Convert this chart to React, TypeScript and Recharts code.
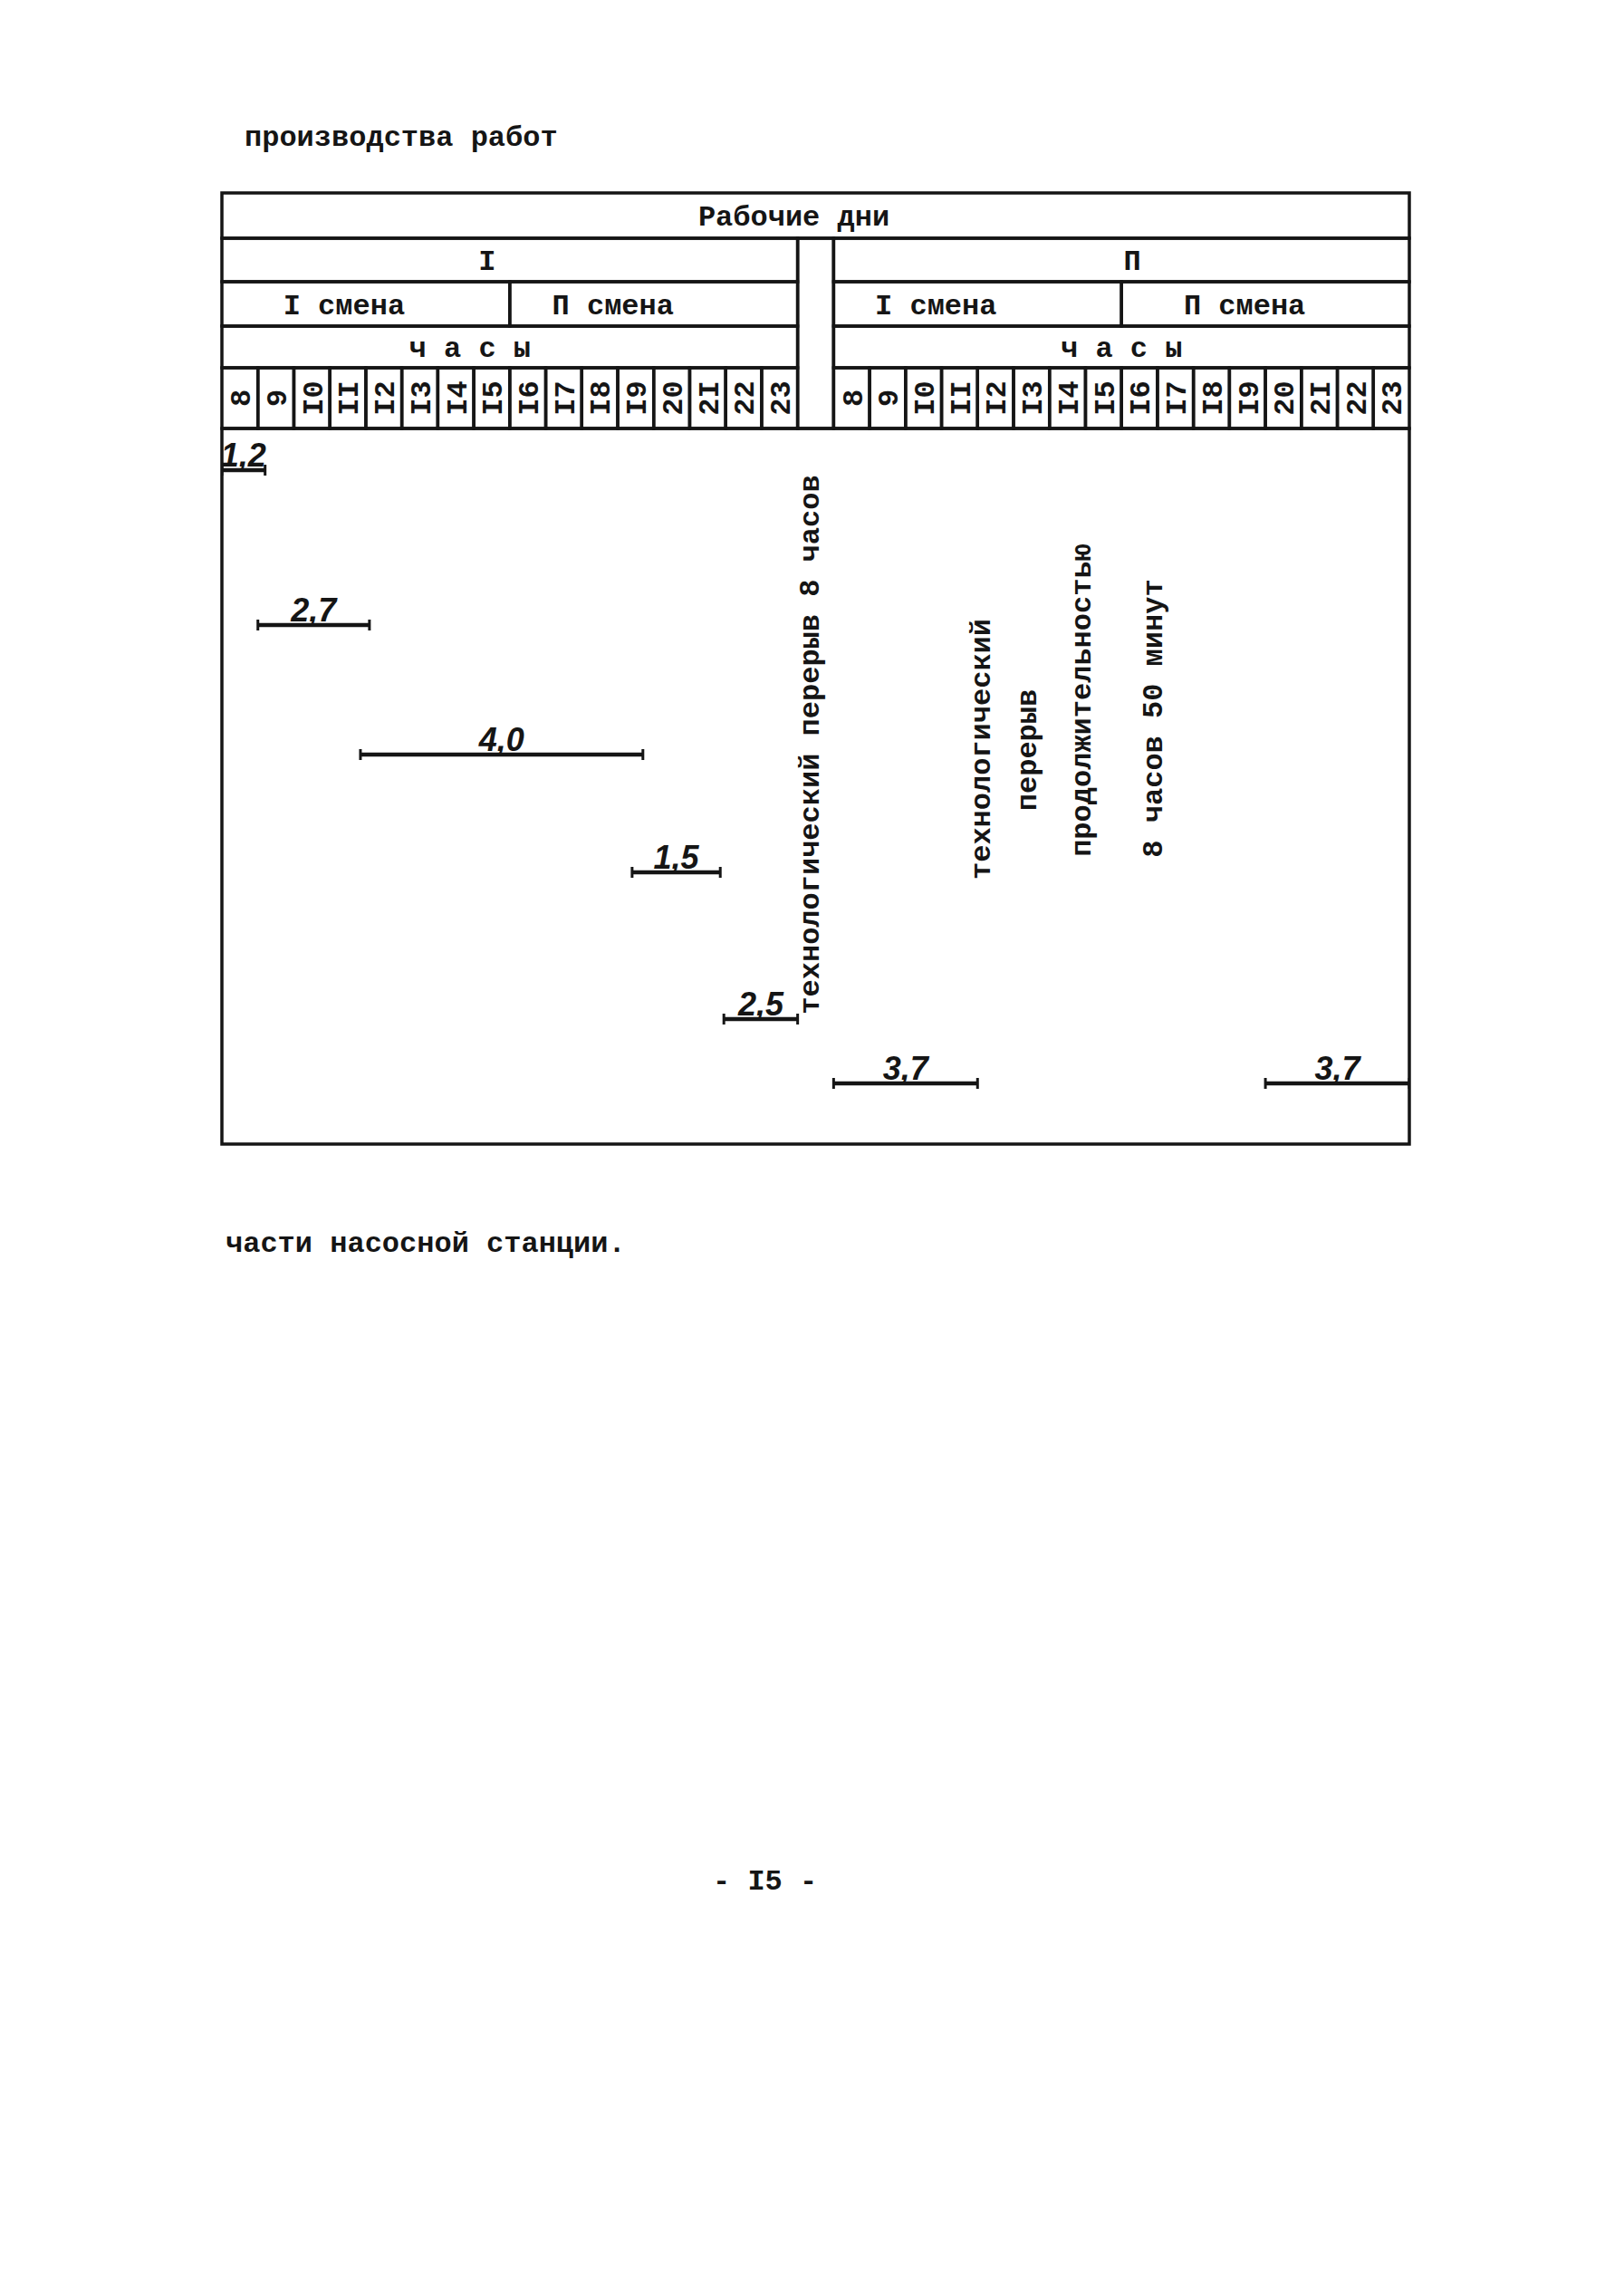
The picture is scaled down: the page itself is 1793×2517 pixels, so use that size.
import { ComposedChart, XAxis, YAxis, Scatter, ReferenceArea, ReferenceDot } from 'recharts';

const INK = '#151515';
const TYPE_FONT = '"Liberation Mono", "DejaVu Sans Mono", monospace';
const HAND_FONT = '"Liberation Sans", "DejaVu Sans", sans-serif';

// header texts
const TITLE = 'Рабочие дни';
const DAYS = ['I', 'П'];
const SHIFTS = ['I смена', 'П смена'];
const HOURS_TITLE = 'ч а с ы';
const HOURS = ['8', '9', 'I0', 'II', 'I2', 'I3', 'I4', 'I5', 'I6', 'I7', 'I8', 'I9', '20', '2I', '22', '23'];

// x axis: hours from 8:00 of day I (0..16), break column (16..17), day II (17..33)
const DAY_START = [0, 17];
const DAY_LEN = 16;
const BREAK = [16, 17];

// works (hours on the common axis), row level down the sheet
const TASK_LABELS = ['1,2', '2,7', '4,0', '1,5', '2,5', '3,7', '3,7'];
const TASK_START = [0, 1.0, 3.85, 11.4, 13.95, 17, 29];
const TASK_END = [1.2, 4.1, 11.7, 13.85, 16.0, 21, 33];
const TASK_ROW = [6.12, 9.54, 12.4, 15.0, 18.24, 19.66, 19.66];

const BREAK_NOTE = 'технологический перерыв 8 часов';
const DAY2_NOTE = ['технологический', 'перерыв', 'продолжительностью', '8 часов 50 минут'];

// header row edges (levels), body goes to 21
const ROWS = [0, 1, 1.96, 2.94, 3.86, 5.2, 21];

const typeLabel = (value: string, dx = 0, angle = 0) => ({
  value,
  position: 'center' as const,
  fill: INK,
  fontSize: 32,
  fontWeight: 700,
  fontFamily: TYPE_FONT,
  dx,
  angle,
});

const cell = (key: string, x1: number, x2: number, y1: number, y2: number, label?: any) => (
  <ReferenceArea
    key={key}
    x1={x1}
    x2={x2}
    y1={y1}
    y2={y2}
    fill="none"
    stroke={INK}
    strokeWidth={3.5}
    ifOverflow="visible"
    label={label}
  />
);

const Cap = (props: any) => (
  <line x1={props.cx} x2={props.cx} y1={props.cy - 6} y2={props.cy + 6} stroke={INK} strokeWidth={3} />
);

const pageText = (text: string, left: number, top: number) => (
  <div
    style={{
      position: 'absolute',
      left,
      top,
      fontFamily: TYPE_FONT,
      fontWeight: 700,
      fontSize: 32,
      lineHeight: '32px',
      color: INK,
      whiteSpace: 'pre',
    }}
  >
    {text}
  </div>
);

export default function App() {
  const shiftDx = [[-24, -45], [-46, -23]];
  const dayDx = [-25, 12];
  const hoursDx = [-44, 0];
  const noteX = [21.05, 22.35, 23.85, 25.85];
  const noteY = [12.28, 12.3, 11.2, 11.6];

  return (
    <div style={{ position: 'absolute', left: 0, top: 0, width: 1793, height: 2517, background: '#fff' }}>
      {pageText('производства работ', 270, 137)}

      <div style={{ position: 'absolute', left: 0, top: 0 }}>
        <ComposedChart width={1793} height={1400} margin={{ top: 213, left: 245, right: 237, bottom: 137 }}>
          <XAxis type="number" dataKey="x" domain={[0, 33]} hide allowDataOverflow />
          <YAxis type="number" dataKey="y" domain={[0, 21]} reversed hide allowDataOverflow />

          {cell('title', 0, 33, ROWS[0], ROWS[1], typeLabel(TITLE, -24))}
          {cell('break', BREAK[0], BREAK[1], ROWS[1], ROWS[5])}
          {DAYS.map((d, i) => cell(`day${i}`, DAY_START[i], DAY_START[i] + DAY_LEN, ROWS[1], ROWS[2], typeLabel(d, dayDx[i])))}
          {DAYS.map((d, i) =>
            SHIFTS.map((s, j) =>
              cell(
                `shift${i}${j}`,
                DAY_START[i] + j * 8,
                DAY_START[i] + (j + 1) * 8,
                ROWS[2],
                ROWS[3],
                typeLabel(s, shiftDx[i][j])
              )
            )
          )}
          {DAYS.map((d, i) =>
            cell(`hours${i}`, DAY_START[i], DAY_START[i] + DAY_LEN, ROWS[3], ROWS[4], typeLabel(HOURS_TITLE, hoursDx[i]))
          )}
          {DAYS.map((d, i) =>
            HOURS.map((h, j) =>
              cell(`h${i}${j}`, DAY_START[i] + j, DAY_START[i] + j + 1, ROWS[4], ROWS[5], typeLabel(h, 0, -90))
            )
          )}
          {cell('body', 0, 33, ROWS[5], ROWS[6])}

          <ReferenceDot
            x={(BREAK[0] + BREAK[1]) / 2 - 0.2}
            y={12.18}
            r={0}
            fill="none"
            stroke="none"
            ifOverflow="visible"
            label={typeLabel(BREAK_NOTE, 0, -90)}
          />
          {DAY2_NOTE.map((t, i) => (
            <ReferenceDot
              key={`note${i}`}
              x={noteX[i]}
              y={noteY[i]}
              r={0}
              fill="none"
              stroke="none"
              ifOverflow="visible"
              label={typeLabel(t, 0, -90)}
            />
          ))}

          {TASK_LABELS.map((label, i) => (
            <Scatter
              key={`task${i}`}
              data={[
                { x: TASK_START[i], y: TASK_ROW[i] },
                { x: TASK_END[i], y: TASK_ROW[i] },
              ]}
              line={{ stroke: INK, strokeWidth: 4.5 }}
              lineType="joint"
              shape={Cap}
              isAnimationActive={false}
            />
          ))}
          {TASK_LABELS.map((label, i) => (
            <ReferenceDot
              key={`lbl${i}`}
              x={(TASK_START[i] + TASK_END[i]) / 2}
              y={TASK_ROW[i]}
              r={0}
              fill="none"
              stroke="none"
              ifOverflow="visible"
              label={{
                value: label,
                position: 'top',
                offset: 4,
                fill: INK,
                fontSize: 36,
                fontStyle: 'italic',
                fontWeight: 700,
                fontFamily: HAND_FONT,
              }}
            />
          ))}
        </ComposedChart>
      </div>

      {pageText('части насосной станции.', 249, 1358)}
      {pageText('- I5 -', 787, 2062)}
    </div>
  );
}
